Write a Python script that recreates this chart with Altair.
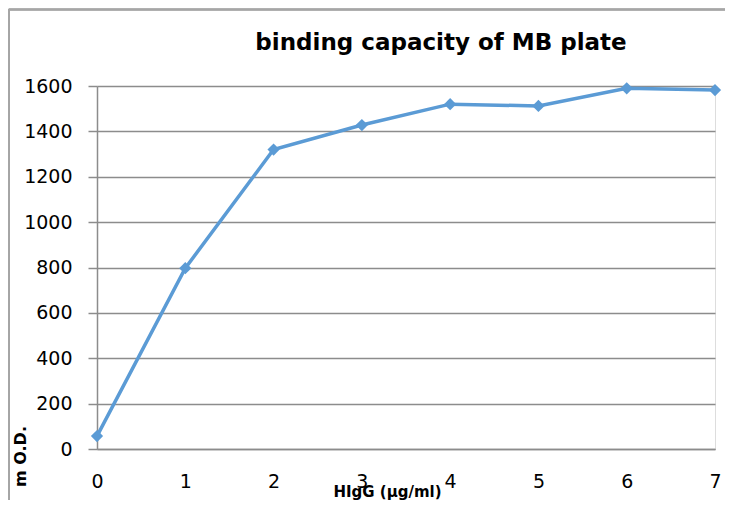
import altair as alt
import pandas as pd

conc = [0, 1, 2, 3, 4, 5, 6, 7]
od = [57, 797, 1320, 1428, 1520, 1512, 1590, 1582]
y_ticks = [0, 200, 400, 600, 800, 1000, 1200, 1400, 1600]
x_ticks = [0, 1, 2, 3, 4, 5, 6, 7]

df = pd.DataFrame({"conc": conc, "od": od})

W, H = 618, 363
GRAY = "#8c8c8c"
BLUE = "#5B9BD5"

base = alt.Chart(df)

line = base.mark_line(color=BLUE, strokeWidth=3.5).encode(
    x=alt.X("conc:Q", scale=alt.Scale(domain=[0, 7], nice=False, zero=False),
            axis=alt.Axis(values=x_ticks, grid=False, ticks=False, domain=True,
                          domainColor=GRAY, domainWidth=1.5, labelFlush=False,
                          labelPadding=23, labelFont="DejaVu Sans", labelFontSize=19,
                          labelColor="black", format="d",
                          title="HIgG (µg/ml)", titleFont="DejaVu Sans", titleFontSize=15,
                          titleFontWeight="bold", titleColor="black",
                          titleAnchor="start", titleAlign="center", titleBaseline="middle",
                          titleX=290, titleY=42.5)),
    y=alt.Y("od:Q", scale=alt.Scale(domain=[0, 1600], nice=False),
            axis=alt.Axis(values=y_ticks, grid=True, gridColor=GRAY, gridWidth=1.5,
                          domainColor=GRAY, domainWidth=1.5, tickColor=GRAY, tickWidth=1.5,
                          tickSize=9, labelPadding=16, labelFont="DejaVu Sans",
                          labelFontSize=19, labelColor="black", format="d",
                          title="m O.D.", titleFont="DejaVu Sans", titleFontSize=16,
                          titleFontWeight="bold", titleColor="black",
                          titleAngle=270, titleAlign="center", titleBaseline="middle",
                          titleX=-77, titleY=370)),
)

points = base.mark_point(shape="diamond", filled=True, color=BLUE, size=150, opacity=1).encode(
    x="conc:Q", y="od:Q"
)

border_v = alt.Chart(df).mark_rule(color="#a6a6a6", strokeWidth=1.5).encode(
    x=alt.value(-88.2), y=alt.value(-76.5), y2=alt.value(H + 55)
)
border_h = alt.Chart(df).mark_rule(color="#a6a6a6", strokeWidth=1.5).encode(
    x=alt.value(-88.2), x2=alt.value(W + 10), y=alt.value(-76.5)
)

chart = alt.layer(border_v, border_h, line, points).properties(
    width=W, height=H,
    title=alt.TitleParams("binding capacity of MB plate", font="DejaVu Sans", fontSize=23,
                          fontWeight="bold", color="black", anchor="middle", frame="group",
                          dx=35, baseline="alphabetic", offset=-64),
    autosize=alt.AutoSizeParams(type="none"),
    padding={"left": 89, "top": 78, "right": 10, "bottom": 51},
).configure_view(stroke=None).configure(background="white")

chart.save("out.html", embed_options={"renderer": "svg", "actions": False})
